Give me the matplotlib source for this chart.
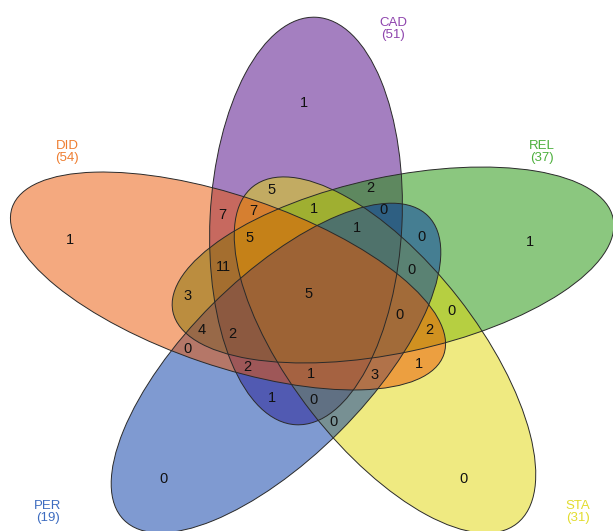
import matplotlib
matplotlib.use("Agg")
import matplotlib.pyplot as plt
from matplotlib.patches import Ellipse

plt.rcParams['font.family'] = ['Liberation Sans', 'DejaVu Sans']

# sets
set_names = ['CAD', 'DID', 'REL', 'STA', 'PER']
set_sizes = [51, 54, 37, 31, 19]

# region counts (outer petals first, then inwards)
region_counts = [1, 1, 1, 0, 0,
                 5, 2, 7, 7, 1,
                 0, 5, 1, 0,
                 11, 0, 3, 5,
                 0, 0, 4, 2,
                 2, 0, 2, 1,
                 3, 1, 1, 0, 0]

# layout: where each count sits (pixels, y down)
label_pos = [(304, 103), (70, 240), (530, 242), (163, 479), (463, 479),
             (272, 190), (370, 188), (222, 215), (253, 211), (314, 209),
             (383, 210), (250, 238), (357, 228), (421, 237),
             (223, 267), (412, 270), (188, 296), (309, 294),
             (400, 315), (452, 311), (202, 330), (232, 334),
             (429, 330), (187, 349), (247, 367), (311, 374),
             (375, 375), (419, 364), (272, 398), (314, 400), (333, 422)]

# ellipse geometry per set: centre x, centre y, semi-major, semi-minor, angle
shapes = {
    'CAD': (306, 221, 204, 96, -87.2),
    'DID': (228, 281, 228, 85, 18.8),
    'REL': (393, 265, 225, 88, -12),
    'STA': (385, 355, 214, 93, 52),
    'PER': (276, 368, 215, 90, -45),
}
fills = {'CAD': '#4B0082', 'DID': '#EB5500', 'REL': '#199100',
         'STA': '#E1D705', 'PER': '#0037A5'}
text_cols = {'CAD': '#8E44AD', 'DID': '#EE7D30', 'REL': '#4CAF3C',
             'STA': '#E2DC2E', 'PER': '#3D6CC0'}
name_pos = {'CAD': (393, 17), 'DID': (67, 140), 'REL': (542, 140),
            'STA': (578, 500), 'PER': (48, 500)}
draw_order = ['CAD', 'REL', 'STA', 'PER', 'DID']

fig = plt.figure(figsize=(6.13, 5.31), dpi=100)
ax = fig.add_axes([0, 0, 1, 1])
ax.set_xlim(0, 613)
ax.set_ylim(531, 0)
ax.axis('off')

for name in draw_order:
    cx, cy, a, b, ang = shapes[name]
    ax.add_patch(Ellipse((cx, cy), 2 * a, 2 * b, angle=ang,
                         facecolor=fills[name], alpha=0.5, edgecolor='none'))
for name in draw_order:
    cx, cy, a, b, ang = shapes[name]
    ax.add_patch(Ellipse((cx, cy), 2 * a, 2 * b, angle=ang,
                         facecolor='none', edgecolor='#2a2a2a', lw=0.7))

for (x, y), n in zip(label_pos, region_counts):
    ax.text(x, y, str(n), ha='center', va='center', fontsize=10.5, color='#111111')

for name, size in zip(set_names, set_sizes):
    x, y = name_pos[name]
    ax.text(x, y, f'{name}\n({size})', ha='center', va='top', fontsize=9.5,
            color=text_cols[name], linespacing=1.0)

fig.savefig('out.png', dpi=100)
